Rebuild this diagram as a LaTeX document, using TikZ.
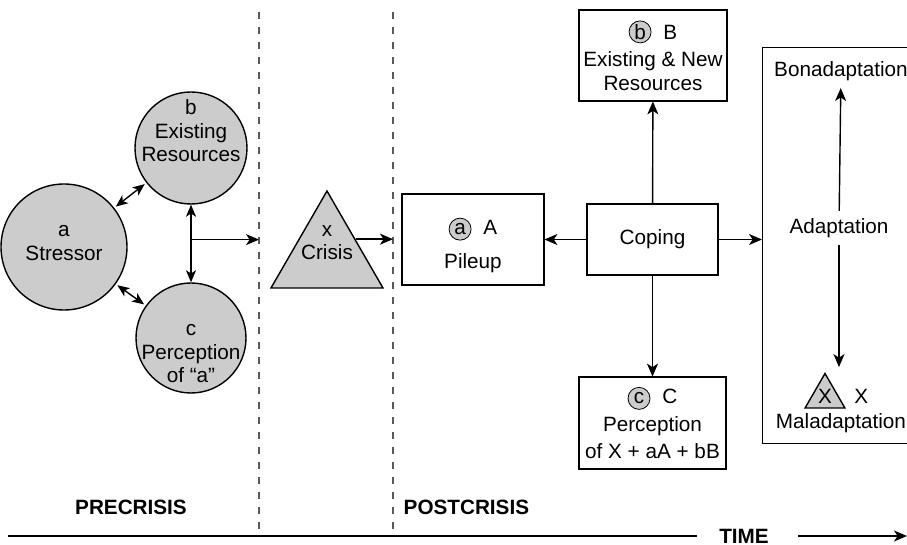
\documentclass[tikz,border=0pt]{standalone}
\usepackage{fontspec}
\setmainfont{Liberation Sans}
\usetikzlibrary{calc}
\usetikzlibrary{arrows.meta}
\usetikzlibrary{shapes.geometric}
\newcommand\letterdot[1]{\tikz[baseline=(l.base)]\node[circle,draw,fill=black!20,minimum size=11pt,inner sep=0pt](l){#1};}

\begin{document}
\begin{tikzpicture}[x=0.5pt,y=-0.5pt,line width=0.7pt,
  font=\fontsize{10.35}{11.75}\selectfont,
  arr/.style={-{Stealth[length=6.5pt,width=5.5pt,inset=1.8pt]}},
  dbl/.style={{Stealth[length=6pt,width=5pt,inset=1.6pt]}-{Stealth[length=6pt,width=5pt,inset=1.6pt]}},
  ball/.style={circle,draw,fill=black!20,inner sep=0pt},
  lift/.style={align=center,yshift=#1},
  tri/.style={regular polygon,regular polygon sides=3,draw,fill=black!20,inner sep=0pt},
  box/.style={rectangle,draw,align=center,inner sep=0pt},
  lbl/.style={font=\fontsize{10.35}{11.75}\selectfont\bfseries},
  divider/.style={dash pattern=on 3.75pt off 3.75pt,black!65}]

\useasboundingbox (0,0) rectangle (907,545);
\clip (0,0) rectangle (907,545);

% time line and phases
\coordinate (pretop) at (259,12);
\coordinate (posttop) at (393,12);
\coordinate (tstart) at (8,536);
\coordinate (tend) at (907,536);
\node[lbl,inner xsep=11pt] (time) at (744,536) {TIME};
\draw (tstart) -- (time.west);
\draw[arr,shorten <=3.5pt] (time.east) -- (tend);
\draw[divider] (pretop) -- (pretop |- tstart);
\draw[divider] (posttop) -- (posttop |- tstart);
\node[lbl] (pre) at (131,507) {PRECRISIS};
\node[lbl,anchor=west,inner sep=0pt] (post) at (403,507) {POSTCRISIS};

% precrisis
\node[ball,minimum size=63pt,label={[lift=2pt]center:a\\Stressor}] (a) at (64,247) {};
\node[ball,minimum size=56pt,label={[lift=8.5pt]center:b\\Existing\\Resources}] (b) at (191,148) {};
\node[ball,minimum size=55pt,label={[lift=-8pt]center:c\\Perception\\of “a”}] (c) at (191,338) {};
\draw[dbl,shorten <=1pt,shorten >=1pt] (a) -- (b);
\draw[dbl,shorten <=1pt,shorten >=1pt] (a) -- (c);
\draw[dbl] (b) -- (c);
\coordinate (bcmid) at ($(b.south)!0.45!(c.north)$);
\draw[arr] (bcmid) -- (bcmid -| pretop);

% crisis
\node[tri,minimum size=64.7pt,label={[lift=6.5pt]center:x\\Crisis}] (crisis) at (327,255.7) {};
\coordinate (crisisout) at ($(crisis.corner 1)!0.5!(crisis.corner 3)$);
\draw[arr] (crisisout) -- (crisisout -| posttop);

% postcrisis
\node[box,minimum width=71pt,minimum height=45.5pt] (pileup) at (473,239.5) {\rule{0pt}{14pt}\letterdot{a}\hspace{6pt}A\\[5pt]Pileup};
\node[box,minimum width=65.5pt,minimum height=35.5pt] (coping) at (652.5,239.5) {Coping};
\node[box,minimum width=74pt,minimum height=45.5pt] (resB) at (653,55.5) {\letterdot{b}\hspace{6pt}B\\[2pt]Existing \& New\\Resources};
\node[box,minimum width=73.5pt,minimum height=46pt] (percC) at (652.5,423) {\letterdot{c}\hspace{6pt}C\\[2pt]Perception\\[2pt]of X + aA + bB};
\node[box,minimum width=110pt,minimum height=198pt,anchor=north west] (adbox) at (762,47) {};
\node (bona) at (841,71) {Bonadaptation};
\node (adapt) at (839,228) {Adaptation};
\node[tri,minimum size=23pt,label={[label distance=4pt]right:X}] (malx) at (825,396.5) {X};
\node (mal) at (841,423) {Maladaptation};

\draw[arr] (coping) -- (resB);
\draw[arr] (coping) -- (percC);
\draw[arr] (coping) -- (pileup);
\draw[arr] (coping) -- (coping -| adbox.west);
\draw[arr] (adapt) -- (bona);
\draw[arr,shorten >=2.5pt] (adapt) -- (adapt |- malx.north);

\end{tikzpicture}
\end{document}
